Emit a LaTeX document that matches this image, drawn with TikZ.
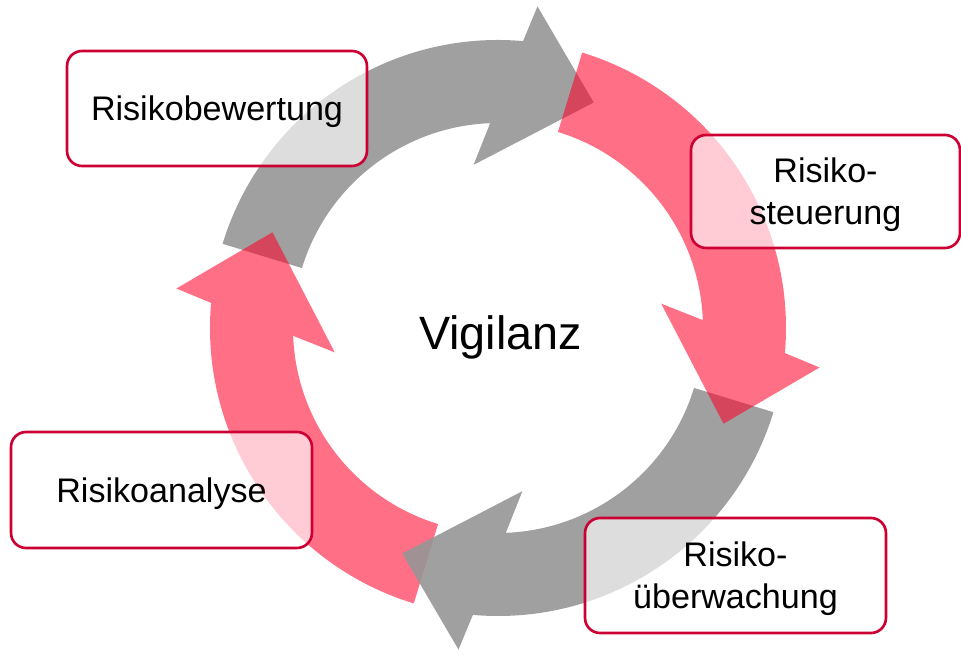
\documentclass[tikz,border=0pt]{standalone}
\usepackage{fontspec}
\setmainfont{Liberation Sans}
\usepackage{tikz}
\usetikzlibrary{positioning}
\definecolor{ringred}{RGB}{255,0,40}
\definecolor{ringgray}{RGB}{150,150,150}
\definecolor{boxborder}{RGB}{204,0,51}

\begin{document}
\begin{tikzpicture}[x=0.02cm, y=0.02cm,
  grayarrow/.style={fill=ringgray, fill opacity=0.9},
  pinkarrow/.style={fill=ringred, fill opacity=0.56},
  cyclearrow/.pic={
    \fill[#1] (163:288) arc[start angle=163, end angle=85, radius=288]
      -- (83:324) -- (67:245) -- (98.5:165) -- (92.2:205)
      arc[start angle=92.2, end angle=163, radius=205] -- cycle;
  },
  stepbox/.style={rectangle, rounded corners=0.3cm, draw=boxborder, line width=1.5pt,
    fill=white, fill opacity=0.65, text opacity=1, align=center, text depth=0pt,
    font=\fontsize{19.4pt}{23.8pt}\selectfont},
  hub/.style={font=\fontsize{26.6pt}{30pt}\selectfont, anchor=base}
]
\useasboundingbox (-498,-327) rectangle (463,328);

% Ring of arrows
\pic (grayup) {cyclearrow=grayarrow};
\pic (pinkleft) [rotate=90] {cyclearrow=pinkarrow};
\pic (graydown) [rotate=180] {cyclearrow=grayarrow};
\pic (pinkright) [rotate=-90] {cyclearrow=pinkarrow};

% Center
\node[hub] (vigilanz) at (2.5,-22) {Vigilanz};

% Steps
\node[stepbox, minimum width=6cm, minimum height=2.3cm] (bewertung) at (-281,219.5) {Risikobewertung};
\node[stepbox, minimum width=5.38cm, minimum height=2.26cm] (steuerung) at (327.5,136.5) {Risiko-\\steuerung};
\node[stepbox, minimum width=6.02cm, minimum height=2.32cm] (analyse) at (-336.5,-162) {Risikoanalyse};
\node[stepbox, minimum width=6.02cm, minimum height=2.3cm] (ueberwachung) at (237.5,-247.5) {Risiko-\\überwachung};

\end{tikzpicture}
\end{document}
